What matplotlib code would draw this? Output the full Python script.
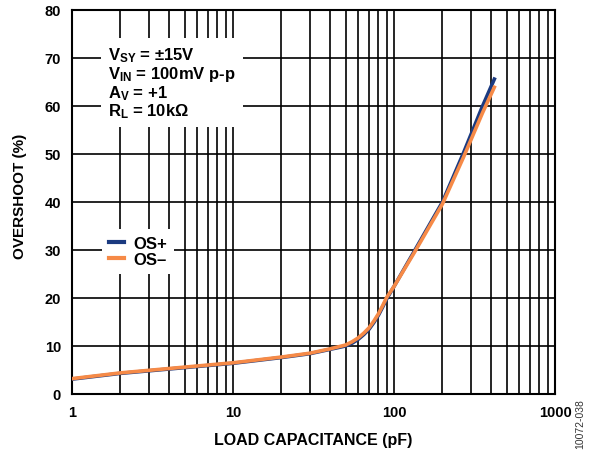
import matplotlib
matplotlib.use("Agg")
import matplotlib.pyplot as plt
from matplotlib.ticker import LogLocator, NullFormatter, FixedLocator

plt.rcParams['font.family'] = ['Liberation Sans', 'DejaVu Sans']
plt.rcParams['font.weight'] = 'bold'
plt.rcParams['mathtext.fontset'] = 'custom'
plt.rcParams['mathtext.rm'] = 'Liberation Sans:bold'
plt.rcParams['mathtext.bf'] = 'Liberation Sans:bold'
plt.rcParams['mathtext.it'] = 'Liberation Sans:bold'

cap_pf = [1, 2, 5, 10, 20, 30, 40, 50, 55, 60, 65, 70, 75, 80, 85, 90, 100, 135, 200, 270, 355, 420]
os_plus = [3.1, 4.3, 5.5, 6.4, 7.6, 8.4, 9.3, 10.0, 10.6, 11.4, 12.4, 13.5, 14.9, 16.4, 18.1, 19.8, 22.4, 30.0, 40.0, 50.2, 60.0, 65.6]
os_minus = [3.2, 4.4, 5.6, 6.5, 7.7, 8.5, 9.4, 10.2, 10.9, 11.7, 12.7, 13.8, 15.2, 16.7, 18.4, 20.1, 22.4, 29.7, 39.6, 49.3, 58.6, 63.9]
x_ticks = [1, 10, 100, 1000]
x_labels = ['1', '10', '100', '1000']
y_ticks = [0, 10, 20, 30, 40, 50, 60, 70, 80]

fig = plt.figure(figsize=(5.92, 4.52), dpi=100)
ax = fig.add_axes([72/592, 1-395/452, (555-72)/592, (395-11)/452])

ax.set_xscale('log')
ax.set_xlim(1, 1000)
ax.set_ylim(0, 80)

ax.xaxis.set_major_locator(FixedLocator(x_ticks))
ax.set_xticks(x_ticks)
ax.set_xticklabels(x_labels)
ax.xaxis.set_minor_locator(LogLocator(base=10, subs=range(2, 10)))
ax.xaxis.set_minor_formatter(NullFormatter())
ax.set_yticks(y_ticks)

ax.grid(True, which='both', axis='x', color='black', lw=1.2)
ax.grid(True, which='major', axis='y', color='black', lw=1.2)
ax.tick_params(which='both', length=0, labelsize=10.5, pad=8)
for s in ax.spines.values():
    s.set_linewidth(1.5)

ax.plot(cap_pf, os_plus, color='#1b3a80', lw=2.6, label='OS+', zorder=3)
ax.plot(cap_pf, os_minus, color='#f68a47', lw=2.6, label='OS\u2013', zorder=4)

ax.set_xlabel('LOAD CAPACITANCE (pF)', fontsize=11.5, fontweight='bold', labelpad=9)
ax.set_ylabel('OVERSHOOT (%)', fontsize=11, fontweight='bold')
ax.yaxis.set_label_coords(-0.094, 0.518)

txt = ('V$_{\\mathrm{SY}}$ = \u00b115V\n'
       'V$_{\\mathrm{IN}}$ = 100mV p-p\n'
       'A$_{\\mathrm{V}}$ = +1\n'
       'R$_{\\mathrm{L}}$ = 10k\u03a9')
ax.text(0.075, 0.908, txt, transform=ax.transAxes, fontsize=12, fontweight='bold',
        va='top', ha='left', linespacing=1.0, zorder=5,
        bbox=dict(facecolor='white', edgecolor='none', pad=5))

leg = ax.legend(loc='upper left', bbox_to_anchor=(0.062, 0.43), frameon=True,
                fancybox=False, framealpha=1, edgecolor='none', fontsize=12,
                handlelength=0.9, handletextpad=0.6, borderaxespad=0, borderpad=0.4,
                labelspacing=0.1)
leg.set_zorder(6)
for t in leg.get_texts():
    t.set_fontweight('bold')
for h in leg.get_lines():
    h.set_linewidth(3)

fig.text(0.98, 0.062, '10072-038', rotation=90, fontsize=7.5, fontweight='normal',
         color='#333333', ha='center', va='center')

fig.savefig('out.png', dpi=100)
